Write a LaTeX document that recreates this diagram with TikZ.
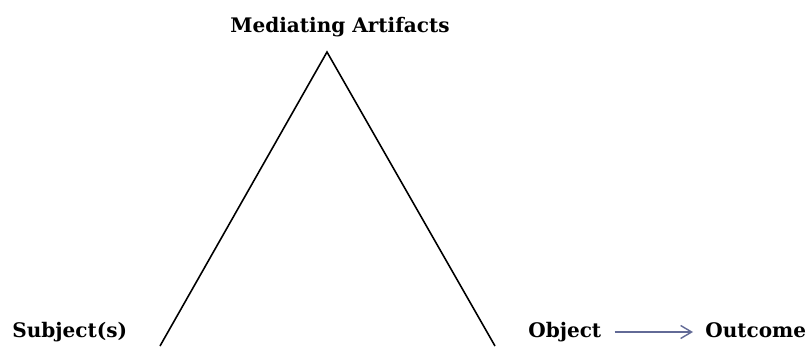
\documentclass[tikz,border=0pt]{standalone}
\usepackage{fontspec}
\setmainfont{DejaVu Serif}
\usetikzlibrary{arrows.meta}
\definecolor{flowc}{RGB}{98,106,150}

\begin{document}
\begin{tikzpicture}[x=1cm,y=1cm,
  lbl/.style={font=\bfseries\fontsize{11.4}{13}\selectfont, inner sep=0pt},
  side/.style={draw=black, line width=0.9pt},
  flow/.style={draw=flowc, line width=0.8pt, -{Straight Barb[length=2.2mm,width=2.6mm]}},
]
\useasboundingbox (0,0) rectangle (16.18,6.92);
% ---------- triangle ----------
\coordinate (apex) at (6.54,5.88);
\coordinate (leftfoot) at (3.2,0);
\coordinate (rightfoot) at (9.9,0);
\draw[side] (leftfoot) -- (apex) -- (rightfoot);
% ---------- labels ----------
\node[lbl, anchor=base] (art) at (6.8,6.28) {Mediating Artifacts};
\node[lbl, anchor=base west] (subj) at (0.24,0.18) {Subject(s)};
\node[lbl, anchor=base west] (obj) at (10.56,0.18) {Object};
\node[lbl, anchor=base west] (out) at (14.1,0.18) {Outcome};
% ---------- object to outcome ----------
\draw[flow] ([shift={(0.26,0.1)}]obj.base east) -- ([shift={(-0.24,0.1)}]out.base west);
\end{tikzpicture}
\end{document}
